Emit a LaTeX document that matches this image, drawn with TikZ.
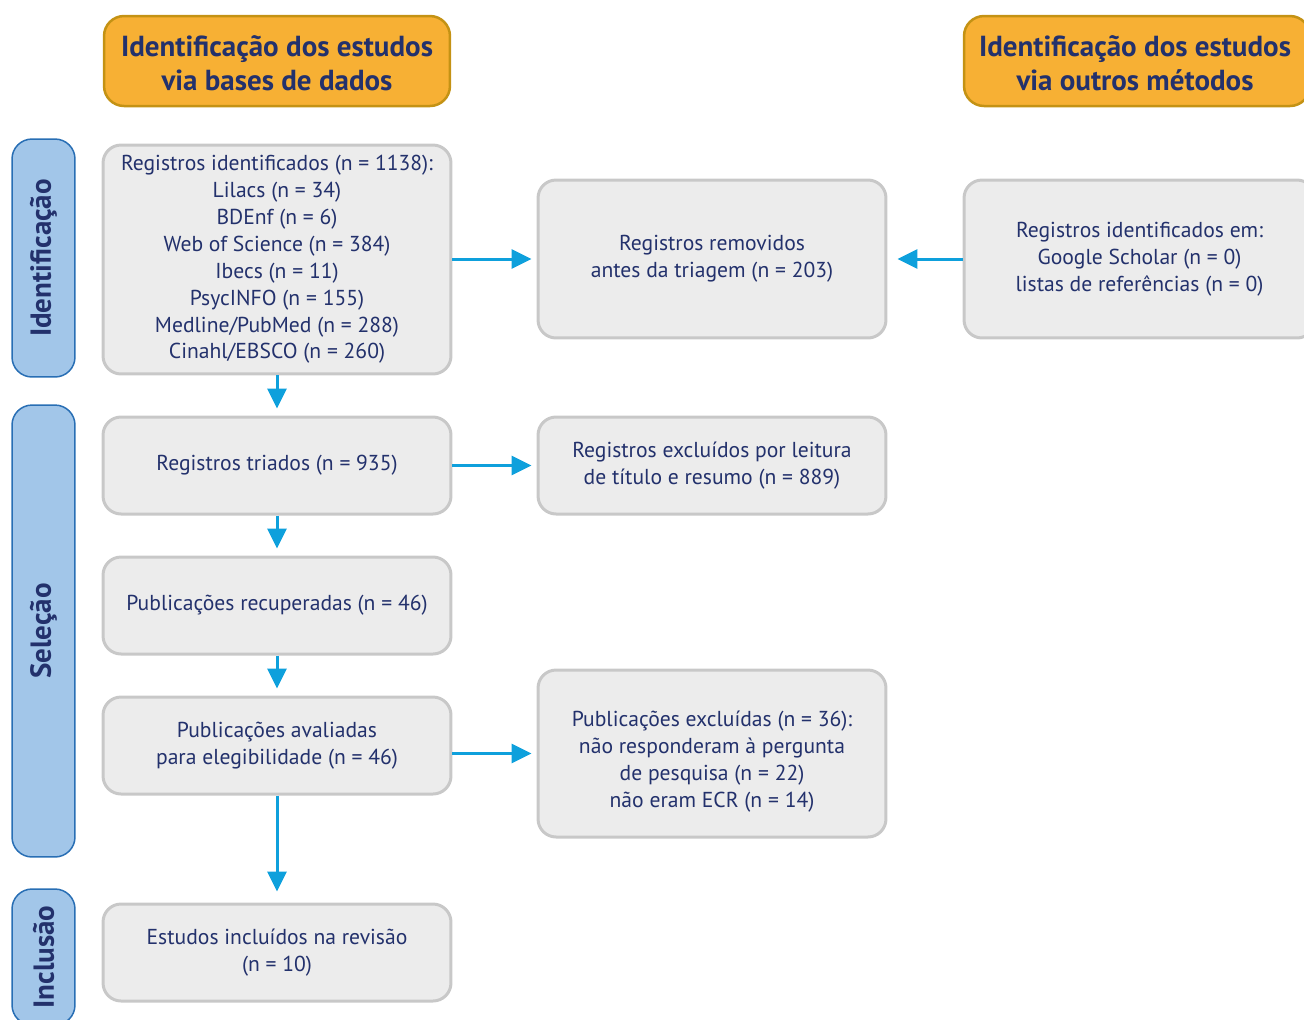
\documentclass[tikz,border=0pt]{standalone}
\usepackage{fontspec}
\setmainfont{PT Sans}
\usetikzlibrary{arrows.meta}
\definecolor{navy}{RGB}{35,49,108}
\definecolor{boxfill}{RGB}{236,236,236}
\definecolor{boxline}{RGB}{200,200,200}
\definecolor{hfill}{RGB}{247,176,52}
\definecolor{hline}{RGB}{196,146,20}
\definecolor{sfill}{RGB}{162,198,233}
\definecolor{sline}{RGB}{40,110,180}
\definecolor{arr}{RGB}{14,160,220}
\tikzset{
  gbox/.style={draw=boxline, fill=boxfill, line width=0.06cm, rounded corners=0.36cm,
    text=navy, align=center, minimum width=6.96cm, font=\fontsize{12.3}{15.3}\selectfont, inner sep=2pt},
  gtext/.style={text=navy, align=center, font=\fontsize{12.3}{15.5}\selectfont, inner sep=0pt},
  hbox/.style={draw=hline, fill=hfill, line width=0.05cm, rounded corners=0.4cm,
    minimum width=6.92cm, minimum height=1.8cm},
  htext/.style={text=navy, align=center, inner sep=0pt,
    font=\bfseries\fontsize{16.5}{19.4}\selectfont},
  sbox/.style={draw=sline, fill=sfill, line width=0.03cm, rounded corners=0.4cm,
    minimum width=1.26cm},
  slabel/.style={text=navy, rotate=90, font=\bfseries\fontsize{16.5}{19}\selectfont},
  flow/.style={draw=arr, line width=0.06cm, -{Triangle[length=0.4cm,width=0.38cm]}}
}
\begin{document}
\begin{tikzpicture}[x=0.02cm, y=-0.02cm]
\useasboundingbox (0,0) rectangle (1304,1019);
\clip (0,0) rectangle (1304,1019);
% headers
\node[hbox] (hl) at (277,61) {};
\node[htext] (hlt) at ([yshift=-0.04cm]hl.center) {Identificação dos estudos\\via bases de dados};
\node[hbox] (hr) at (1137,61) {};
\node[htext] (hrt) at ([yshift=-0.04cm, xshift=-0.04cm]hr.center) {Identificação dos estudos\\via outros métodos};
% side labels
\node[sbox, minimum height=4.76cm] (sid) at (43.5,258) {};
\node[slabel] (tid) at (sid.center) {Identificação};
\node[sbox, minimum height=9.04cm] (ssel) at (43.5,631) {};
\node[slabel] (tsel) at (ssel.center) {Seleção};
\node[sbox, minimum height=2.72cm] (sinc) at (43.5,957) {};
\node[slabel] (tinc) at (sinc.center) {Inclusão};
% boxes
\node[gbox, minimum height=4.58cm] (b1) at (277,259.5) {Registros identificados (n = 1138):\\Lilacs (n = 34)\\BDEnf (n = 6)\\Web of Science (n = 384)\\Ibecs (n = 11)\\PsycINFO (n = 155)\\Medline/PubMed (n = 288)\\Cinahl/EBSCO (n = 260)};
\node[gbox, minimum height=3.16cm] (rem) at (712,259) {Registros removidos\\antes da triagem (n = 203)};
\node[gbox, minimum height=3.16cm, minimum width=7.02cm] (oth) at (1139.5,259) {Registros identificados em:\\Google Scholar (n = 0)\\listas de referências (n = 0)};
\node[gbox, minimum height=1.94cm] (tri) at (277,465.5) {Registros triados (n = 935)};
\node[gbox, minimum height=1.94cm] (ext) at (712,465.5) {Registros excluídos por leitura\\de título e resumo (n = 889)};
\node[gbox, minimum height=1.94cm] (rec) at (277,605.5) {Publicações recuperadas (n = 46)};
\node[gbox, minimum height=1.94cm] (ava) at (277,745.5) {Publicações avaliadas\\para elegibilidade (n = 46)};
\node[gbox, minimum height=3.34cm] (exc) at (712,753.5) {};
\node[gtext] (exct) at ([yshift=-0.16cm]exc.center) {Publicações excluídas (n = 36):\\não responderam à pergunta\\de pesquisa (n = 22)\\não eram ECR (n = 14)};
\node[gbox, minimum height=1.94cm] (inc) at (277,952.5) {Estudos incluídos na revisão\\(n = 10)};
% arrows
\draw[flow, shorten >=0.1cm] (b1.east |- rem.west) -- (rem.west);
\draw[flow, shorten >=0.2cm] (oth.west) -- (rem.east);
\draw[flow, shorten >=0.14cm] (b1) -- (tri);
\draw[flow, shorten >=0.1cm] (tri) -- (ext);
\draw[flow, shorten >=0.14cm] (tri) -- (rec);
\draw[flow, shorten >=0.14cm] (rec) -- (ava);
\draw[flow, shorten >=0.1cm] (ava.east |- exc.west) -- (exc.west);
\draw[flow, shorten >=0.22cm] (ava) -- (inc);
\end{tikzpicture}
\end{document}
